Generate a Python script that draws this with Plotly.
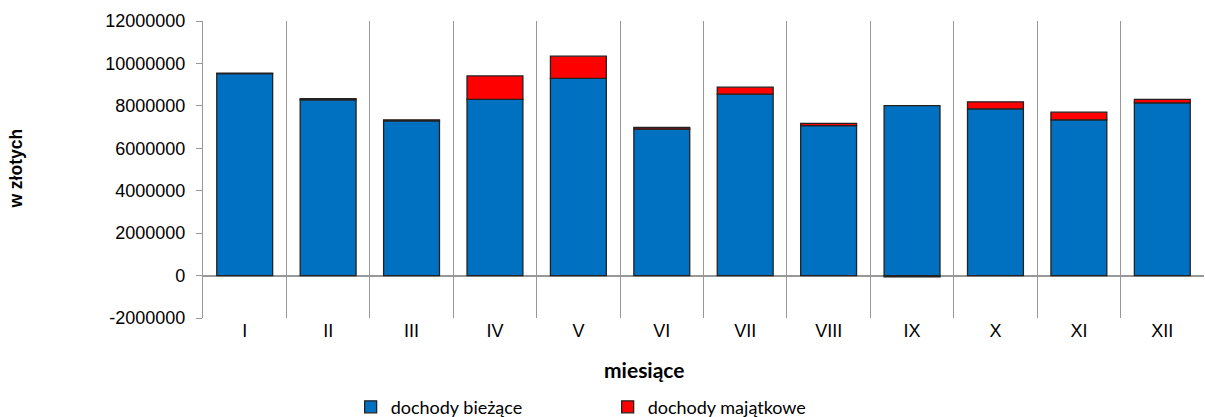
import plotly.graph_objects as go

months = ["I", "II", "III", "IV", "V", "VI", "VII", "VIII", "IX", "X", "XI", "XII"]
dochody_biezace = [9520000, 8280000, 7290000, 8310000, 9300000, 6900000, 8550000, 7070000, 8010000, 7860000, 7340000, 8140000]
dochody_majatkowe = [20000, 60000, 50000, 1100000, 1040000, 80000, 330000, 100000, -60000, 330000, 360000, 170000]
y_ticks = [-2000000, 0, 2000000, 4000000, 6000000, 8000000, 10000000, 12000000]

outline = dict(color="#222222", width=1.3)
fig = go.Figure()
fig.add_trace(go.Bar(x=months, y=dochody_biezace, name="dochody bieżące",
                     marker=dict(color="#0070C0", line=outline), width=0.67))
fig.add_trace(go.Bar(x=months, y=dochody_majatkowe, name="dochody majątkowe",
                     marker=dict(color="#FF0000", line=outline), width=0.67))

grid = "#989898"
fig.update_layout(
    barmode="relative",
    width=1205, height=417,
    margin=dict(l=203, r=1, t=21, b=99, autoexpand=False),
    plot_bgcolor="white", paper_bgcolor="white",
    font=dict(family="Liberation Sans, Arial", size=18, color="#000000"),
    showlegend=True,
    legend=dict(orientation="h", x=0.1475, y=-0.30, xanchor="left", yanchor="middle",
                font=dict(family="Lato", size=18), entrywidth=212, entrywidthmode="pixels",
                itemwidth=30, traceorder="normal", bgcolor="rgba(0,0,0,0)"),
    xaxis=dict(type="category", tickson="boundaries", showgrid=True, gridcolor=grid, gridwidth=1.3,
               showline=False, ticks="", tickfont=dict(size=18), range=[-0.5, 11.5],
               automargin=False),
    yaxis=dict(range=[-2000000, 12000000], tickvals=y_ticks, ticktext=[str(v) for v in y_ticks],
               showgrid=False, zeroline=True, zerolinecolor=grid, zerolinewidth=1.5,
               showline=True, linecolor=grid, linewidth=1.3, ticks="outside", ticklen=6,
               tickcolor=grid, tickwidth=1.3, tickfont=dict(size=18), ticklabelstandoff=7,
               automargin=False),
    annotations=[
        dict(text="<b>miesiące</b>", xref="paper", yref="paper", x=0.4406, y=-0.172,
             showarrow=False, font=dict(family="Lato", size=21), xanchor="center", yanchor="middle"),
        dict(text="<b>w złotych</b>", xref="paper", yref="paper", x=-0.1868, y=0.503,
             showarrow=False, textangle=-90, font=dict(family="Liberation Sans", size=17.5),
             xanchor="center", yanchor="middle"),
    ],
)
fig.write_html("out.html", config={"displayModeBar": False},
               post_script="document.body.style.margin='0';document.body.style.overflow='hidden';")
